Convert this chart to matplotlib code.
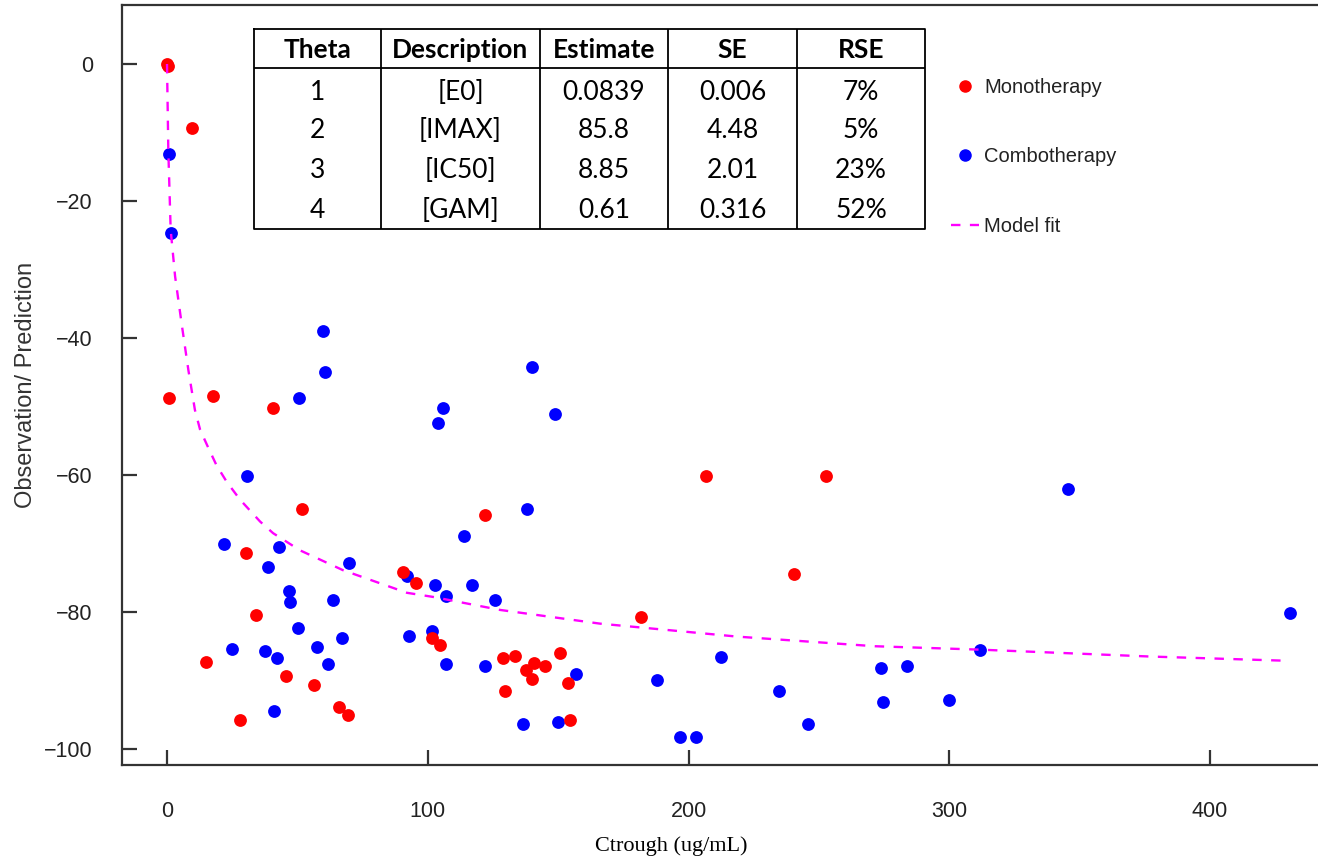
import matplotlib.pyplot as plt
from matplotlib.lines import Line2D

plt.rcParams['font.family'] = ['Liberation Sans', 'DejaVu Sans']

# Monotherapy observations (red)
mono_x = [0, 0.2, 9.7, 0.6, 17.8, 40.5, 51.9, 121.8, 30.2, 90.5, 95.5, 34.3,
          101.6, 104.8, 15.1, 128.9, 133.6, 150.7, 140.6, 144.8, 137.6, 139.9,
          153.8, 129.6, 45.6, 56.3, 66.1, 69.5, 28.1, 154.6, 206.7, 252.6,
          240.5, 181.8]
mono_y = [0, -0.3, -9.4, -48.7, -48.4, -50.2, -64.9, -65.8, -71.4, -74.2, -75.7,
          -80.4, -83.8, -84.8, -87.3, -86.7, -86.4, -86.0, -87.5, -87.9, -88.5,
          -89.8, -90.4, -91.6, -89.4, -90.7, -93.8, -95.1, -95.7, -95.7, -60.1,
          -60.1, -74.5, -80.7]

# Combotherapy observations (blue)
combo_x = [0.9, 1.5, 59.7, 60.6, 50.7, 139.9, 105.7, 103.8, 148.8, 30.7, 138.0,
           113.9, 21.7, 43.1, 69.9, 38.6, 91.9, 102.9, 116.8, 107.0, 125.9, 46.8,
           47.2, 63.5, 50.1, 92.9, 101.6, 67.1, 57.5, 25.0, 37.5, 42.2, 61.7,
           107.0, 122.0, 156.9, 41.0, 136.7, 150.1, 212.6, 187.8, 234.8, 245.7,
           196.7, 202.7, 345.4, 430.5, 311.8, 273.7, 283.7, 274.7, 299.8]
combo_y = [-13.1, -24.7, -39.0, -44.9, -48.7, -44.3, -50.2, -52.4, -51.1, -60.1,
           -64.9, -68.9, -70.1, -70.5, -72.9, -73.5, -74.8, -76.1, -76.1, -77.6,
           -78.2, -76.9, -78.6, -78.2, -82.3, -83.5, -82.8, -83.8, -85.1, -85.4,
           -85.7, -86.7, -87.6, -87.6, -87.9, -89.1, -94.5, -96.3, -96.0, -86.6,
           -90.0, -91.6, -96.3, -98.2, -98.2, -62.0, -80.1, -85.6, -88.2, -87.9,
           -93.2, -92.8]

# Model fit curve
fit_x = [0, 0.5, 1.4, 3.1, 5.6, 8.2, 10.7, 12.7, 15.8, 19, 22.9, 28, 35.7, 40.7,
         51, 67.5, 92, 102, 127.7, 166, 218.8, 271.4, 311.8, 376.7, 427.5]
fit_y = [0, -12.6, -24.2, -31.0, -37.9, -44.7, -50.5, -53.4, -56.0, -58.6, -61.0,
         -63.6, -66.8, -68.5, -71, -73.9, -77.2, -77.8, -79.7, -81.7, -83.6, -85.0,
         -85.5, -86.5, -87.1]

# Parameter table
col_labels = ['Theta', 'Description', 'Estimate', 'SE', 'RSE']
theta = ['1', '2', '3', '4']
desc = ['[E0]', '[IMAX]', '[IC50]', '[GAM]']
estimate = ['0.0839', '85.8', '8.85', '0.61']
se = ['0.006', '4.48', '2.01', '0.316']
rse = ['7%', '5%', '23%', '52%']

W, H = 1318, 859
fig = plt.figure(figsize=(W / 100, H / 100), dpi=100)
ax = fig.add_axes([122 / W, 1 - 765 / H, 1 - 122 / W, (765 - 5) / H])

ax.scatter(combo_x, combo_y, s=85, color='#0000ff', linewidths=0, zorder=2)
ax.scatter(mono_x, mono_y, s=85, color='#ff0000', linewidths=0, zorder=2)
ax.plot(fit_x, fit_y, color='#ff00ff', lw=1.7, linestyle=(0, (4, 4)), zorder=3)

ax.set_xlim(-17.26, 441.4)
ax.set_ylim(-102.34, 8.61)
ax.set_xticks([0, 100, 200, 300, 400])
ax.set_yticks([-100, -80, -60, -40, -20, 0])
for s in ['left', 'bottom', 'top']:
    ax.spines[s].set_linewidth(1.6)
    ax.spines[s].set_color('#333333')
ax.spines['right'].set_visible(False)
ax.tick_params(direction='in', length=11, width=1.6, color='#333333',
               labelsize=15.5, labelcolor='#222222')
ax.tick_params(axis='y', pad=21)
ax.tick_params(axis='x', pad=26)

ax.set_ylabel('Observation/ Prediction', fontsize=17, color='#333333')
ax.yaxis.set_label_coords(-0.071, 0.5)
ax.set_xlabel('Ctrough (ug/mL)', fontsize=16, family='Liberation Serif',
              color='black')
ax.xaxis.set_label_coords(0.459, -0.094)

handles = [Line2D([], [], marker='o', color='#ff0000', linestyle='none', markersize=8),
           Line2D([], [], marker='o', color='#0000ff', linestyle='none', markersize=8),
           Line2D([], [], color='#ff00ff', lw=1.7, linestyle=(0, (4, 4)))]
ax.legend(handles, ['Monotherapy', 'Combotherapy', 'Model fit'], frameon=False,
          loc='upper left', bbox_to_anchor=(933 / W, 1 - 60 / H),
          bbox_transform=fig.transFigure, fontsize=14.5, labelspacing=2.5,
          handlelength=1.4, handletextpad=0.25, labelcolor='#222222')

# table drawn in its own axes, in pixel units
tx0, tx1, ty0, ty1 = 254, 925, 29, 229
tab = fig.add_axes([tx0 / W, 1 - ty1 / H, (tx1 - tx0) / W, (ty1 - ty0) / H])
tab.set_xlim(tx0, tx1)
tab.set_ylim(ty1, ty0)
tab.axis('off')
col_edges = [254, 381, 540, 668, 797, 925]
header_bottom = 68
row_centers = [92, 131, 171, 211]
lw = 1.3
tab.plot([tx0, tx1, tx1, tx0, tx0], [ty0, ty0, ty1, ty1, ty0], color='black', lw=lw,
         clip_on=False)
tab.plot([tx0, tx1], [header_bottom, header_bottom], color='black', lw=lw)
for e in col_edges[1:-1]:
    tab.plot([e, e], [ty0, ty1], color='black', lw=lw)
columns = [theta, desc, estimate, se, rse]
for i, lab in enumerate(col_labels):
    cx = (col_edges[i] + col_edges[i + 1]) / 2
    tab.text(cx, (ty0 + header_bottom) / 2 + 1, lab, ha='center', va='center',
             fontsize=19, fontweight='bold', family='Lato')
    for j, val in enumerate(columns[i]):
        tab.text(cx, row_centers[j], val, ha='center', va='center', fontsize=19,
                 family='Lato')

fig.savefig('out.png', dpi=100)
